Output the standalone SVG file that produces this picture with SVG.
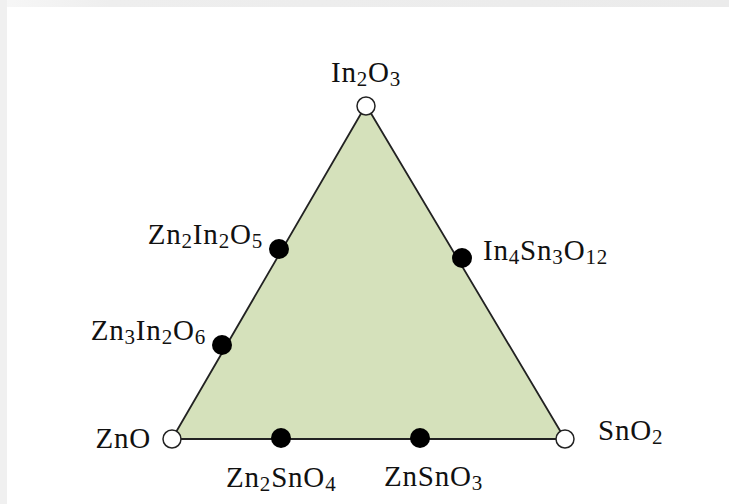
<svg xmlns="http://www.w3.org/2000/svg" width="729" height="504" viewBox="0 0 729 504">
<defs>
<linearGradient id="gt" x1="0" y1="0" x2="1" y2="0"><stop offset="0" stop-color="#f7f7f7"/><stop offset="0.15" stop-color="#eeeeee"/><stop offset="1" stop-color="#ebebeb"/></linearGradient>
<style>
text{font-family:"Liberation Serif","Times New Roman",serif;font-size:29px;letter-spacing:0.8px;fill:#111}
.s{font-size:21px}
.open{fill:#fff;stroke:#222;stroke-width:1.5}
.dot{fill:#000}
</style>
</defs>
<rect width="729" height="504" fill="#fff"/>
<rect x="0" y="0" width="729" height="7" fill="url(#gt)"/>
<rect x="0" y="0" width="7" height="504" fill="#f0f0f0"/>
<g id="edges">
<polygon points="366,105 172,439 565,439" fill="#d5e1bb" stroke="#222" stroke-width="1.8" stroke-linejoin="round"/>
</g>
<g id="In2O3"><circle class="open" cx="366" cy="106" r="9"/><text x="366" y="82" text-anchor="middle">In<tspan class="s" dy="4">2</tspan><tspan dy="-4">O</tspan><tspan class="s" dy="4">3</tspan></text></g>
<g id="ZnO"><circle class="open" cx="172" cy="439" r="9"/><text x="151" y="448" text-anchor="end">ZnO</text></g>
<g id="SnO2"><circle class="open" cx="565" cy="439" r="9"/><text x="598" y="440">SnO<tspan class="s" dy="4">2</tspan></text></g>
<g id="Zn2In2O5"><circle class="dot" cx="279" cy="249" r="10"/><text x="263" y="244" text-anchor="end">Zn<tspan class="s" dy="4">2</tspan><tspan dy="-4">In</tspan><tspan class="s" dy="4">2</tspan><tspan dy="-4">O</tspan><tspan class="s" dy="4">5</tspan></text></g>
<g id="Zn3In2O6"><circle class="dot" cx="222" cy="345" r="10"/><text x="206" y="340" text-anchor="end">Zn<tspan class="s" dy="4">3</tspan><tspan dy="-4">In</tspan><tspan class="s" dy="4">2</tspan><tspan dy="-4">O</tspan><tspan class="s" dy="4">6</tspan></text></g>
<g id="In4Sn3O12"><circle class="dot" cx="462" cy="258" r="10"/><text x="483" y="260">In<tspan class="s" dy="4">4</tspan><tspan dy="-4">Sn</tspan><tspan class="s" dy="4">3</tspan><tspan dy="-4">O</tspan><tspan class="s" dy="4">12</tspan></text></g>
<g id="Zn2SnO4"><circle class="dot" cx="281" cy="438" r="10"/><text x="226" y="487">Zn<tspan class="s" dy="4">2</tspan><tspan dy="-4">SnO</tspan><tspan class="s" dy="4">4</tspan></text></g>
<g id="ZnSnO3"><circle class="dot" cx="420" cy="438" r="10"/><text x="384" y="486">ZnSnO<tspan class="s" dy="4">3</tspan></text></g>
</svg>
